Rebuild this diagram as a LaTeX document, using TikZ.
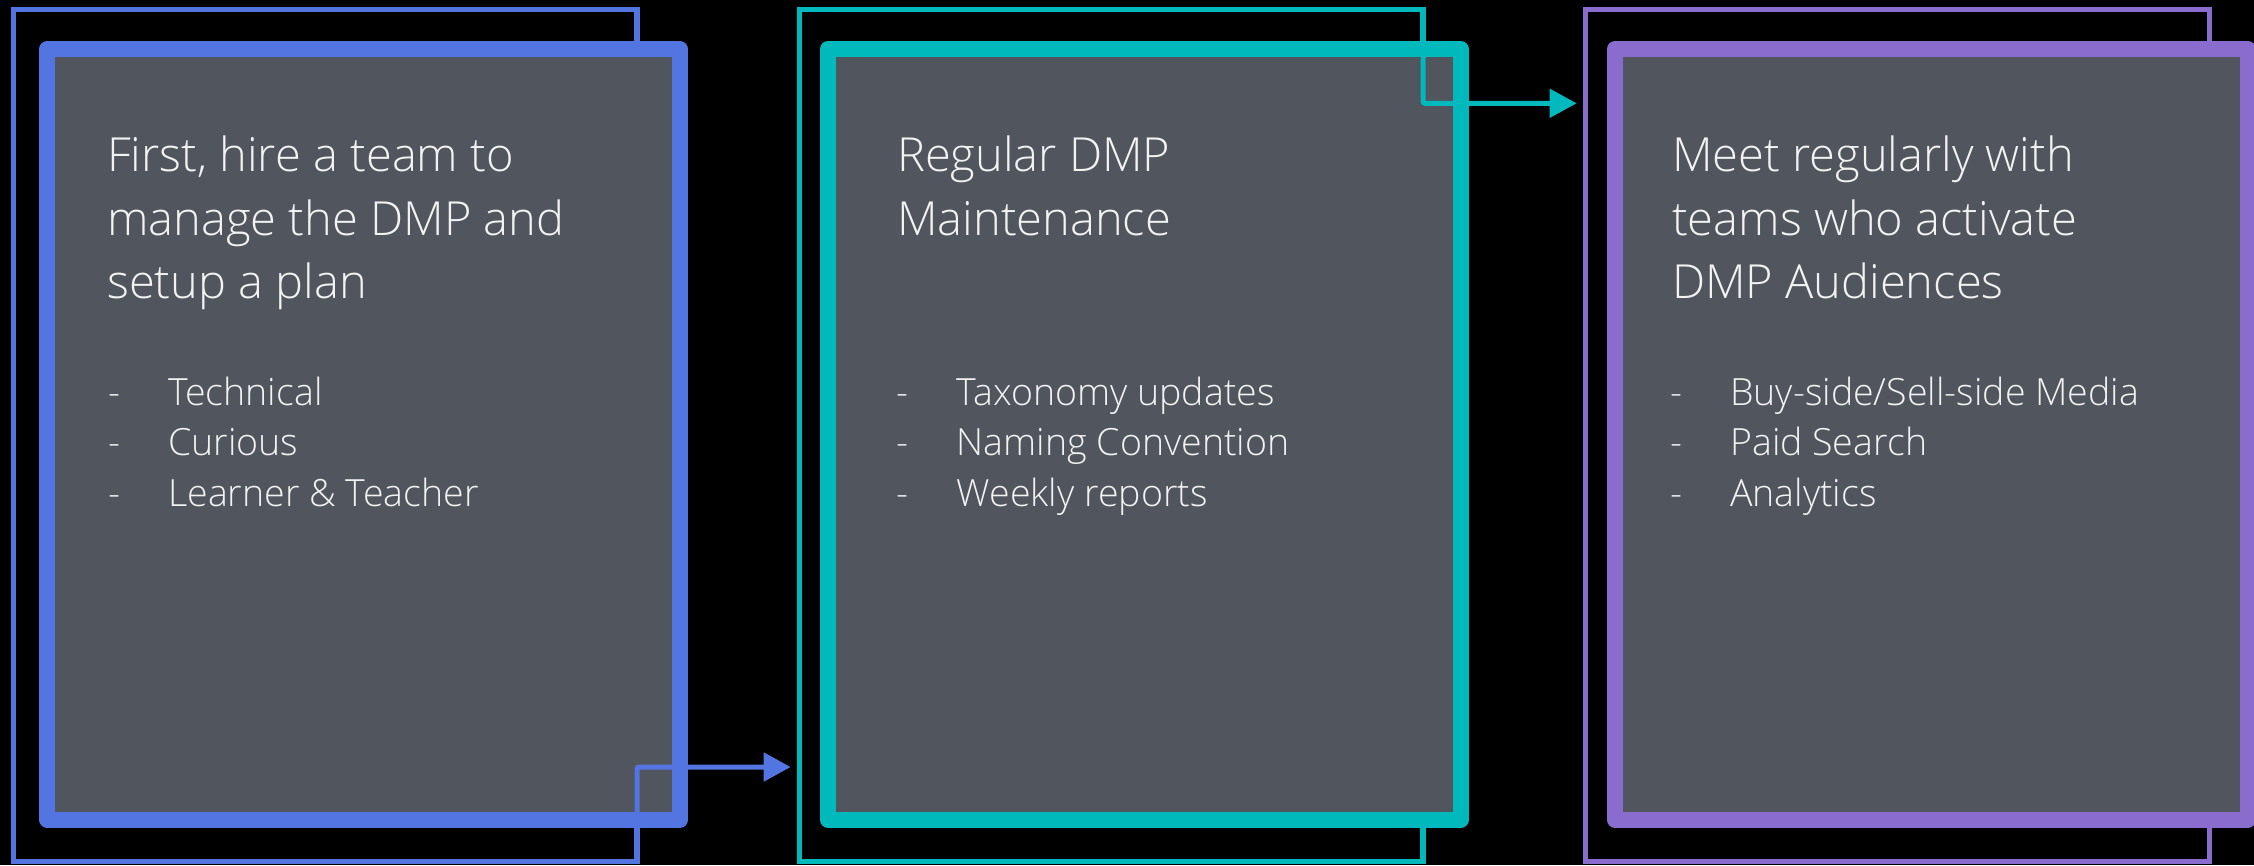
\documentclass[tikz,border=0pt]{standalone}
\usepackage{fontspec}
\setmainfont{Open Sans Light}
\usetikzlibrary{arrows.meta}
\definecolor{cblue}{HTML}{5375E1}
\definecolor{cteal}{HTML}{00B9BC}
\definecolor{cpurple}{HTML}{8A6CCE}
\definecolor{cgrey}{HTML}{51565E}
\definecolor{ctext}{HTML}{F2F2F2}
\tikzset{
  thinframe/.style={draw=#1, line width=5.3pt, rectangle, outer sep=0pt, inner sep=0pt,
    minimum width=623.5pt, minimum height=852.4pt, anchor=north west},
  thickbox/.style={draw=#1, fill=cgrey, line width=16pt, rectangle, outer sep=0pt, inner sep=0pt,
    line join=round, minimum width=632.5pt, minimum height=770.7pt, anchor=north west},
  flowarrow/.style={draw=#1, line width=5pt, rounded corners=2pt,
    -{Triangle[length=27pt,width=28pt]}},
  heading/.style={anchor=base west, align=left, inner sep=0pt, text=ctext,
    font=\fontsize{47}{63.3}\selectfont},
  bullets/.style={anchor=base west, align=left, inner sep=0pt, text=ctext,
    font=\fontsize{37.5}{50.8}\selectfont}
}
\newcommand{\bul}[1]{\makebox[60pt][l]{-}#1}
\begin{document}
\begin{tikzpicture}[x=1pt,y=-1pt]
\fill[black] (0,0) rectangle (2254,865);
\useasboundingbox (0,0) rectangle (2254,865);
% thin back frames
\node[thinframe=cblue] (thin1) at (13.6,9.3) {};
\node[thinframe=cteal] (thin2) at (799.5,9.3) {};
\node[thinframe=cpurple] (thin3) at (1585.7,9.3) {};
% thick boxes
\node[thickbox=cblue] (box1) at (47.3,49) {};
\node[thickbox=cteal] (box2) at (828,49) {};
\node[thickbox=cpurple] (box3) at (1615,49) {};
% arrow end points
\coordinate (a1e) at (790.7,767);
\coordinate (a2e) at (1576.7,103.3);
\draw[flowarrow=cblue] (thin1.south east) |- (a1e);
\draw[flowarrow=cteal] (thin2.north east) |- (a2e);
% texts (anchored at the baseline of the last line)
\node[heading] (h1) at (107,298.3) {First, hire a team to\\manage the DMP and\\setup a plan};
\node[bullets] (b1) at (108,506.6) {\bul{Technical}\\\bul{Curious}\\\bul{Learner \& Teacher}};
\node[heading] (h2) at (897,235) {Regular DMP\\Maintenance};
\node[bullets] (b2) at (896.7,506.6) {\bul{Taxonomy updates}\\\bul{Naming Convention}\\\bul{Weekly reports}};
\node[heading] (h3) at (1672,298.3) {Meet regularly with\\teams who activate\\DMP Audiences};
\node[bullets] (b3) at (1670,506.6) {\bul{Buy-side/Sell-side Media}\\\bul{Paid Search}\\\bul{Analytics}};
\end{tikzpicture}
\end{document}
